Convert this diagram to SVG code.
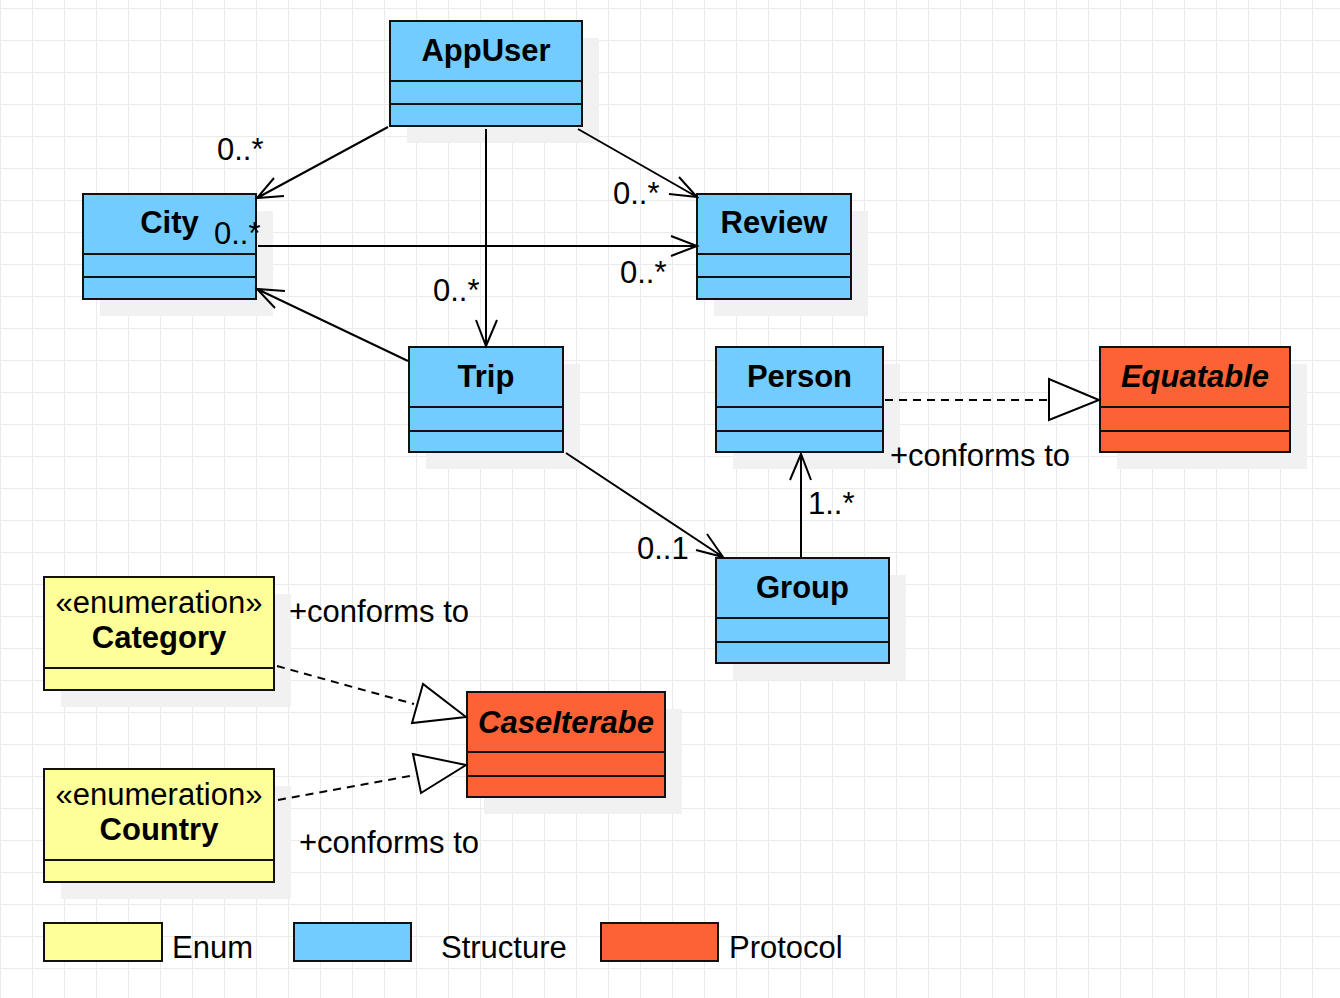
<svg xmlns="http://www.w3.org/2000/svg" width="1340" height="998" viewBox="0 0 1340 998">
<defs>
<pattern id="grid" x="0" y="8" width="32" height="32" patternUnits="userSpaceOnUse">
<path d="M0.5 0 V32 M0 0.5 H32" fill="none" stroke="#ebebeb" stroke-width="1"/>
</pattern>
</defs>
<style>
.box{stroke:#111;stroke-width:2}
.st{fill:#72ccfd}
.pr{fill:#fc6236}
.en{fill:#ffff99}
.sh{fill:#f1f1f1}
.sep{stroke:#111;stroke-width:2;fill:none}
.t{font-family:"Liberation Sans",Arial,sans-serif;font-size:31px;font-weight:bold;fill:#000;text-anchor:middle}
.ti{font-style:italic}
.l{font-family:"Liberation Sans",Arial,sans-serif;font-size:31px;fill:#000}
.lc{text-anchor:middle}
.ln{stroke:#000;stroke-width:2;fill:none}
.dl{stroke:#000;stroke-width:2;fill:none;stroke-dasharray:8 6}
.tri{stroke:#000;stroke-width:2;fill:#fff}
</style>
<rect width="1340" height="998" fill="#fff"/>
<rect width="1340" height="998" fill="url(#grid)"/>

<g id="shadows">
<rect class="sh" x="407" y="38" width="192" height="105"/>
<rect class="sh" x="100" y="211" width="173" height="105"/>
<rect class="sh" x="714" y="211" width="154" height="105"/>
<rect class="sh" x="426" y="364" width="154" height="105"/>
<rect class="sh" x="733" y="364" width="167" height="105"/>
<rect class="sh" x="1117" y="364" width="190" height="105"/>
<rect class="sh" x="733" y="575" width="173" height="105"/>
<rect class="sh" x="61" y="594" width="230" height="113"/>
<rect class="sh" x="484" y="709" width="198" height="105"/>
<rect class="sh" x="61" y="786" width="230" height="113"/>
</g>

<g id="AppUser">
<rect class="box st" x="390" y="21" width="192" height="105"/>
<path class="sep" d="M390 81 H582 M390 104 H582"/>
<text class="t" x="486" y="61">AppUser</text>
</g>
<g id="City">
<rect class="box st" x="83" y="194" width="173" height="105"/>
<path class="sep" d="M83 254 H256 M83 277 H256"/>
<text class="t" x="169.5" y="233">City</text>
</g>
<g id="Review">
<rect class="box st" x="697" y="194" width="154" height="105"/>
<path class="sep" d="M697 254 H851 M697 277 H851"/>
<text class="t" x="774" y="233">Review</text>
</g>
<g id="Trip">
<rect class="box st" x="409" y="347" width="154" height="105"/>
<path class="sep" d="M409 407 H563 M409 431 H563"/>
<text class="t" x="486" y="387">Trip</text>
</g>
<g id="Person">
<rect class="box st" x="716" y="347" width="167" height="105"/>
<path class="sep" d="M716 407 H883 M716 431 H883"/>
<text class="t" x="799.5" y="387">Person</text>
</g>
<g id="Equatable">
<rect class="box pr" x="1100" y="347" width="190" height="105"/>
<path class="sep" d="M1100 407 H1290 M1100 431 H1290"/>
<text class="t ti" x="1195" y="387">Equatable</text>
</g>
<g id="Group">
<rect class="box st" x="716" y="558" width="173" height="105"/>
<path class="sep" d="M716 618 H889 M716 642 H889"/>
<text class="t" x="802.5" y="598">Group</text>
</g>
<g id="Category">
<rect class="box en" x="44" y="577" width="230" height="113"/>
<path class="sep" d="M44 668 H274"/>
<text class="l lc" x="159" y="613">«enumeration»</text>
<text class="t" x="159" y="648">Category</text>
</g>
<g id="CaseIterabe">
<rect class="box pr" x="467" y="692" width="198" height="105"/>
<path class="sep" d="M467 752 H665 M467 776 H665"/>
<text class="t ti" x="566" y="733">CaseIterabe</text>
</g>
<g id="Country">
<rect class="box en" x="44" y="769" width="230" height="113"/>
<path class="sep" d="M44 860 H274"/>
<text class="l lc" x="159" y="805">«enumeration»</text>
<text class="t" x="159" y="840">Country</text>
</g>

<g id="connectors">
<path class="ln" d="M388 127 L257 198 M274 178 L257 198 L284 196"/>
<path class="ln" d="M578 129 L697 197 M679 177 L697 197 L669 194"/>
<path class="ln" d="M486 129 V346 M476 320 L486 346 L497 320"/>
<path class="ln" d="M258 246 H697 M671 236 L697 246 L671 256"/>
<path class="ln" d="M408 361 L257 289 M285 291 L257 289 L275 308"/>
<path class="ln" d="M566 453 L723 557 M707 534 L723 557 L696 550"/>
<path class="ln" d="M801 557 V454 M790 480 L801 454 L811 480"/>
<path class="dl" d="M885 400 H1049"/>
<polygon class="tri" points="1049,379 1049,420 1099,400"/>
<path class="dl" d="M277 666 L414 704"/>
<polygon class="tri" points="423,684 412,723 466,717"/>
<path class="dl" d="M278 800 L415 775"/>
<polygon class="tri" points="413,754 421,793 466,765"/>
</g>

<g id="labels">
<text class="l" x="217" y="160">0..*</text>
<text class="l" x="214" y="244">0..*</text>
<text class="l" x="613" y="204">0..*</text>
<text class="l" x="620" y="283">0..*</text>
<text class="l" x="433" y="301">0..*</text>
<text class="l" x="637" y="559">0..1</text>
<text class="l" x="808" y="514">1..*</text>
<text class="l" x="890" y="466">+conforms to</text>
<text class="l" x="289" y="622">+conforms to</text>
<text class="l" x="299" y="853">+conforms to</text>
</g>

<g id="legend">
<rect class="box en" x="44" y="923" width="118" height="38"/>
<text class="l" x="172" y="958">Enum</text>
<rect class="box st" x="294" y="923" width="117" height="38"/>
<text class="l" x="441" y="958">Structure</text>
<rect class="box pr" x="601" y="923" width="117" height="38"/>
<text class="l" x="729" y="958">Protocol</text>
</g>
</svg>
